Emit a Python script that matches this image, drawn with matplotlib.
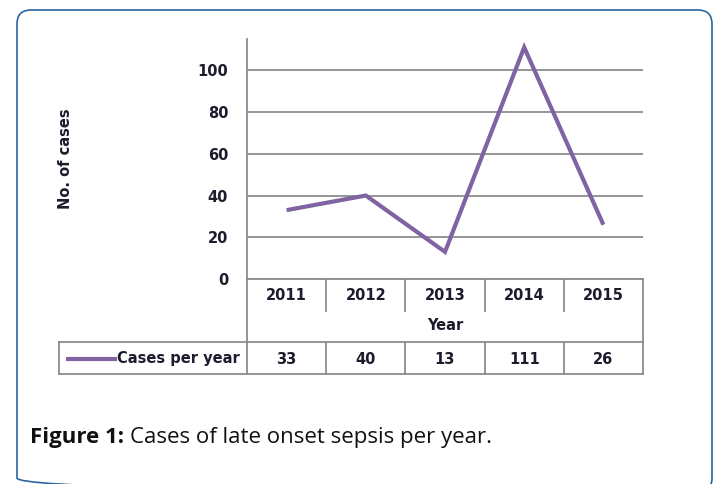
import matplotlib
matplotlib.use("Agg")
import matplotlib.pyplot as plt
import matplotlib.transforms as mtransforms
from matplotlib.patches import FancyBboxPatch
from matplotlib.lines import Line2D

years = ["2011", "2012", "2013", "2014", "2015"]
cases = [33, 40, 13, 111, 26]
yticks = [0, 20, 40, 60, 80, 100]
series_name = "Cases per year"

W, H = 716, 484
fig = plt.figure(figsize=(W / 100, H / 100), dpi=100)
pix = mtransforms.Affine2D().scale(1 / W, -1 / H).translate(0, 1) + fig.transFigure

# rounded frame around the figure
frame = FancyBboxPatch((17, 10), 695, 482, boxstyle="round,pad=0,rounding_size=14",
                       transform=pix, fill=False, edgecolor="#2b65a0", lw=1.2)
fig.patches.append(frame)

grey = "#8c8c8c"
purple = "#8064a2"
tfont = dict(family="DejaVu Sans", weight="bold", size=10.5, color="#1c1c2c")

x0, x1, ytop, ybot = 247, 643, 39, 279
ax = fig.add_axes([x0 / W, 1 - ybot / H, (x1 - x0) / W, (ybot - ytop) / H])
x = list(range(len(years)))
ax.plot(x, cases, color=purple, lw=3, solid_joinstyle="miter", solid_capstyle="butt", zorder=3)
ax.set_xlim(-0.5, len(years) - 0.5)
ax.set_ylim(0, 115)
ax.set_yticks(yticks)
ax.set_yticklabels([str(t) for t in yticks], fontdict=tfont)
ax.set_xticks([])
ax.tick_params(axis="y", length=0, pad=13.5)
ax.yaxis.grid(True, color=grey, lw=1.3)
ax.set_axisbelow(True)
for s in ["top", "right"]:
    ax.spines[s].set_visible(False)
for s in ["left", "bottom"]:
    ax.spines[s].set_color(grey)
    ax.spines[s].set_linewidth(1.3)

fig.text(65 / W, 1 - 159 / H, "No. of cases", rotation=90, ha="center", va="center", **tfont)

# data table under the axis
bt = mtransforms.blended_transform_factory(ax.transData, pix)
n = len(years)
lines = []
lines.append(([-0.5, -0.5], [279, 374]))
lines.append(([n - 0.5, n - 0.5], [279, 374]))
for i in range(n - 1):
    lines.append(([i + 0.5, i + 0.5], [279, 311]))
    lines.append(([i + 0.5, i + 0.5], [342, 374]))
for xs, ys in lines:
    fig.add_artist(Line2D(xs, ys, transform=bt, color=grey, lw=1.3))
for yy in [342, 374]:
    fig.add_artist(Line2D([59, x1], [yy, yy], transform=pix, color=grey, lw=1.3))
fig.add_artist(Line2D([59, 59], [342, 374], transform=pix, color=grey, lw=1.3))

for i, (yr, v) in enumerate(zip(years, cases)):
    fig.text(i, 296, yr, transform=bt, ha="center", va="center", **tfont)
    fig.text(i, 359, str(v), transform=bt, ha="center", va="center", **tfont)
fig.text(n / 2 - 0.5, 326, "Year", transform=bt, ha="center", va="center", **tfont)

# legend key in the table
fig.add_artist(Line2D([66, 117], [359, 359], transform=pix, color=purple, lw=3, solid_capstyle="butt"))
fig.text(117, 359, series_name, transform=pix, ha="left", va="center", **tfont)

# caption
cap = fig.text(30, 437, "Figure 1:", transform=pix, ha="left", va="center",
               family="Open Sans", weight="bold", size=16, color="#111111")
fig.canvas.draw()
bb = cap.get_window_extent()
fig.text(bb.x1 + 6, bb.y0 + bb.height / 2, "Cases of late onset sepsis per year.",
         transform=None, ha="left", va="center", family="Open Sans", size=16, color="#111111")

fig.savefig("out.png", dpi=100)
